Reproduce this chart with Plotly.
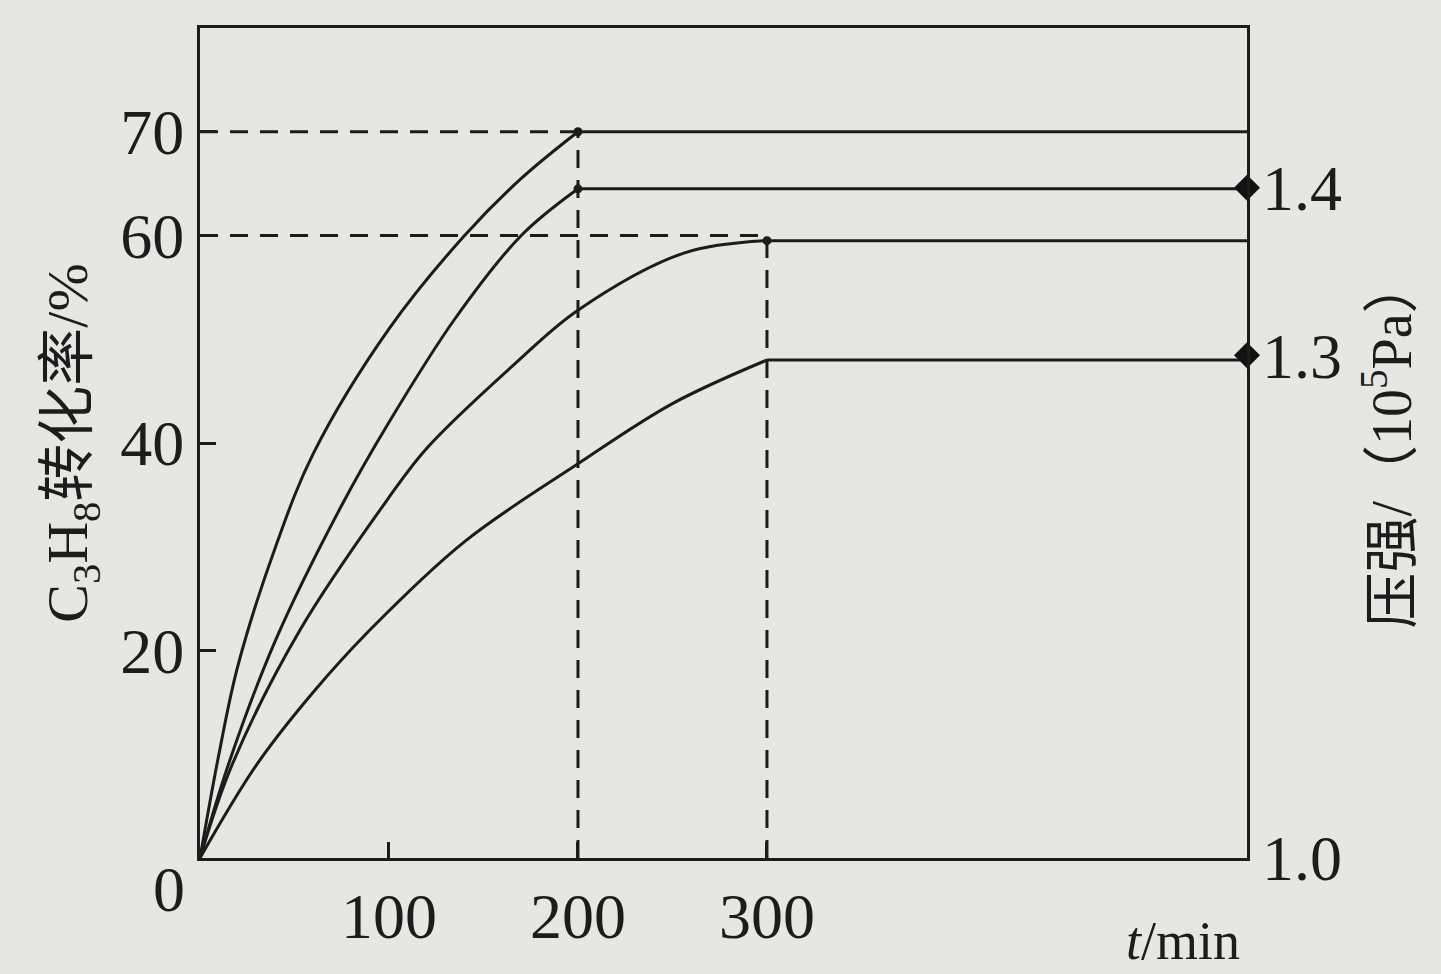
import plotly.graph_objects as go

# ---- data ----
t1 = [0, 10, 20, 40, 60, 100, 140, 170, 200]
c1 = [0, 10, 18.5, 30, 39, 51, 60, 65.5, 70]
t2 = [0, 15, 40, 75, 100, 135, 170, 200]
c2 = [0, 9, 21, 34, 42, 52, 60, 64.5]
t3 = [0, 17, 53, 99, 120, 167, 200, 256, 300]
c3 = [0, 9, 22, 34.5, 39.5, 47.7, 52.8, 58.3, 59.5]
t4 = [0, 30, 60, 90, 140, 200, 250, 300]
c4 = [0, 9, 16, 22, 30.5, 38, 43.8, 48]
t_end = 554
pressure_ticks = [1.0, 1.3, 1.4]
pressure_marks = [1.4, 1.3]
left_ticks = [20, 40, 60, 70]
x_ticks = [100, 200, 300]

INK = "#1c1c1c"
BG = "#e6e6e3"
SERIF = "Liberation Serif, Noto Sans CJK SC, serif"

fig = go.Figure()

# dashed guide lines
dash = "18px,12px"
fig.add_trace(go.Scatter(x=[0, 200], y=[70, 70], mode="lines",
                         line=dict(color=INK, width=3, dash=dash), hoverinfo="skip"))
fig.add_trace(go.Scatter(x=[0, 300], y=[60, 60], mode="lines",
                         line=dict(color=INK, width=3, dash=dash), hoverinfo="skip"))
fig.add_trace(go.Scatter(x=[200, 200], y=[0, 70], mode="lines",
                         line=dict(color=INK, width=3, dash=dash), hoverinfo="skip"))
fig.add_trace(go.Scatter(x=[300, 300], y=[0, c3[-1]], mode="lines",
                         line=dict(color=INK, width=3, dash=dash), hoverinfo="skip"))

# rising curves and plateaus
for tt, cc in [(t1, c1), (t2, c2), (t3, c3), (t4, c4)]:
    fig.add_trace(go.Scatter(x=tt, y=cc, mode="lines",
                             line=dict(color=INK, width=3, shape="spline", smoothing=1.0),
                             hoverinfo="skip"))
    fig.add_trace(go.Scatter(x=[tt[-1], t_end], y=[cc[-1], cc[-1]], mode="lines",
                             line=dict(color=INK, width=3), hoverinfo="skip"))

# kink dots
fig.add_trace(go.Scatter(x=[t1[-1], t2[-1], t3[-1]], y=[c1[-1], c2[-1], c3[-1]],
                         mode="markers", marker=dict(color=INK, size=9),
                         cliponaxis=False, hoverinfo="skip"))

# pressure markers on right axis
fig.add_trace(go.Scatter(x=[t_end, t_end], y=pressure_marks, yaxis="y2",
                         mode="markers", marker=dict(color="#111", size=20, symbol="diamond"),
                         cliponaxis=False, hoverinfo="skip"))

fig.update_layout(
    width=1441, height=974,
    margin=dict(l=200, r=194, t=28, b=116),
    paper_bgcolor=BG, plot_bgcolor=BG,
    showlegend=False,
    font=dict(family=SERIF, color=INK, size=64),
    xaxis=dict(range=[0, t_end], tickvals=x_ticks, ticks="inside", ticklen=16,
               tickwidth=3, tickcolor=INK, showgrid=False, zeroline=False,
               showline=True, linecolor=INK, linewidth=3, mirror=True,
               tickfont=dict(size=64, family=SERIF)),
    yaxis=dict(range=[0, 80], tickvals=left_ticks, ticks="inside", ticklen=16,
               tickwidth=3, tickcolor=INK, showgrid=False, zeroline=False,
               showline=True, linecolor=INK, linewidth=3, mirror=True,
               tickfont=dict(size=64, family=SERIF),
               title=dict(text="C<sub>3</sub>H<sub>8</sub>转化率/%",
                          font=dict(size=58, family=SERIF), standoff=14)),
    yaxis2=dict(range=[1.0, 1.0 + 80 / 161.5], overlaying="y", side="right",
                tickvals=pressure_ticks, tickformat=".1f", ticks="", showgrid=False,
                zeroline=False, showline=False, ticklabelstandoff=14,
                tickfont=dict(size=64, family=SERIF),
                title=dict(text="压强/（10<sup>5</sup>Pa）",
                           font=dict(size=56, family=SERIF), standoff=30)),
    annotations=[
        dict(text="0", x=-0.012, y=-0.038, xref="paper", yref="paper",
             xanchor="right", yanchor="middle", showarrow=False,
             font=dict(size=64, family=SERIF)),
        dict(text="<i>t</i>/min", x=0.995, y=-0.138, xref="paper", yref="paper",
             xanchor="right", yanchor="bottom", showarrow=False,
             font=dict(size=54, family=SERIF)),
    ],
)

fig.write_html("out.html", config={"displayModeBar": False},
               post_script="document.body.style.margin='0px';document.body.style.background='%s';" % BG)
